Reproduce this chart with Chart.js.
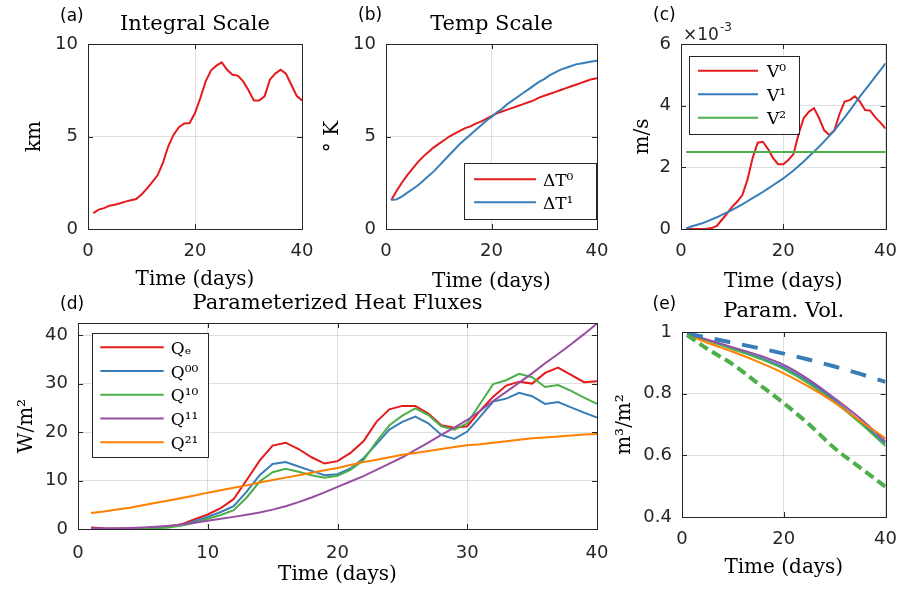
<!DOCTYPE html>
<html>
<head>
<meta charset="utf-8">
<title>Parameterized heat fluxes</title>
<script src="https://cdn.jsdelivr.net/npm/chart.js@4.4.1/dist/chart.umd.min.js"></script>
<style>
  body { margin: 0; background: #fff; }
  #figure { position: relative; width: 909px; height: 595px; background: #fff; overflow: hidden; }
  #figure canvas { position: absolute; left: 0; top: 0; }
</style>
</head>
<body>
<div id="figure">
  <canvas id="panelA" width="909" height="595"></canvas>
  <canvas id="panelB" width="909" height="595"></canvas>
  <canvas id="panelC" width="909" height="595"></canvas>
  <canvas id="panelD" width="909" height="595"></canvas>
  <canvas id="panelE" width="909" height="595"></canvas>
</div>
<script>
// x values (days) shared by the daily series
const days = [1,2,3,4,5,6,7,8,9,10,11,12,13,14,15,16,17,18,19,20,21,22,23,24,25,26,27,28,29,30,31,32,33,34,35,36,37,38,39,40];

// (a) integral scale, km
const integralScale = [0.86,1.05,1.13,1.26,1.31,1.39,1.48,1.55,1.62,1.87,2.18,2.54,2.9,3.57,4.47,5.1,5.5,5.7,5.73,6.27,7.08,7.98,8.58,8.83,9.01,8.61,8.34,8.29,7.98,7.5,6.95,6.95,7.17,8.07,8.4,8.61,8.4,7.8,7.2,6.95];

// (b) temperature scale, K
const deltaT0 = [1.57,2.05,2.5,2.9,3.25,3.6,3.9,4.15,4.4,4.6,4.8,5.0,5.15,5.3,5.45,5.55,5.7,5.8,5.95,6.1,6.25,6.35,6.45,6.55,6.65,6.75,6.85,6.95,7.1,7.2,7.3,7.4,7.5,7.6,7.7,7.8,7.9,8.0,8.1,8.15];
const deltaT1 = [1.57,1.6,1.75,1.95,2.15,2.35,2.6,2.85,3.1,3.4,3.7,4.0,4.3,4.6,4.85,5.1,5.35,5.6,5.85,6.05,6.3,6.5,6.75,6.95,7.15,7.35,7.55,7.75,7.95,8.1,8.3,8.45,8.6,8.7,8.8,8.9,8.95,9.0,9.05,9.1];

// (c) velocity scale, units of 1e-3 m/s
const vel0 = [0,0,0,0,0.01,0.03,0.1,0.3,0.5,0.72,0.89,1.1,1.6,2.3,2.8,2.83,2.6,2.3,2.1,2.1,2.24,2.43,3.08,3.6,3.8,3.92,3.6,3.2,3.05,3.2,3.73,4.13,4.18,4.3,4.13,3.86,3.84,3.62,3.45,3.26];
const vel1 = [0.02,0.08,0.13,0.18,0.24,0.31,0.38,0.46,0.54,0.62,0.71,0.8,0.9,1.0,1.1,1.2,1.31,1.42,1.53,1.64,1.77,1.9,2.04,2.19,2.35,2.51,2.67,2.84,3.02,3.2,3.41,3.62,3.84,4.07,4.3,4.51,4.72,4.94,5.15,5.37];
const vel2Days = [1, 40];
const vel2 = [2.5, 2.5];

// (d) heat fluxes, W/m2
const qE  = [0.3,0.15,0.1,0.1,0.15,0.3,0.5,1.0,2.0,3.0,4.3,6.2,10.1,14.1,17.2,17.8,16.5,14.8,13.5,14.0,15.7,18.1,22.1,24.7,25.4,25.4,23.8,21.4,20.9,21.2,24.4,27.3,29.6,30.4,30.0,32.2,33.3,31.8,30.3,30.5];
const q00 = [0.1,0.05,0.05,0.05,0.1,0.2,0.4,0.9,1.6,2.5,3.5,4.7,7.7,11.1,13.4,13.8,12.9,12.0,11.1,11.3,12.5,14.6,17.5,20.5,22.1,23.2,21.8,19.4,18.6,20.1,23.2,26.3,26.9,28.1,27.4,25.8,26.2,25.1,24.0,23.0];
const q10 = [0,0,0,0.05,0.1,0.15,0.3,0.7,1.3,2.1,2.9,3.9,6.5,9.8,11.7,12.4,11.8,11.1,10.6,11.0,12.2,14.2,18.0,21.4,23.4,24.9,23.5,21.2,20.5,21.8,25.9,29.9,30.7,32.0,31.3,29.3,29.7,28.5,27.1,25.8];
const q11 = [0.05,0.08,0.12,0.2,0.3,0.45,0.65,0.95,1.3,1.7,2.1,2.5,2.95,3.4,4.0,4.7,5.55,6.5,7.55,8.7,9.8,10.9,12.2,13.5,14.8,16.3,17.8,19.4,20.9,22.5,24.4,26.4,28.3,30.2,32.1,34.2,36.1,38.1,40.2,42.4];
const q21 = [3.3,3.6,4.0,4.4,4.9,5.4,5.9,6.4,6.9,7.5,8.0,8.5,9.0,9.6,10.1,10.6,11.1,11.6,12.1,12.6,13.2,13.8,14.3,14.8,15.3,15.7,16.1,16.5,16.9,17.3,17.5,17.8,18.1,18.4,18.7,18.9,19.1,19.3,19.5,19.6];

// (e) parameterized volume, m3/m2 (read every 5 days)
const volDays = [1,5,10,15,20,25,30,35,40];
const volQ00 = [0.995,0.973,0.946,0.918,0.885,0.838,0.778,0.71,0.638];
const volQ10 = [0.993,0.972,0.944,0.915,0.88,0.832,0.772,0.705,0.63];
const volQ11 = [0.995,0.975,0.95,0.925,0.893,0.845,0.785,0.72,0.645];
const volQ21 = [0.99,0.965,0.936,0.903,0.866,0.822,0.771,0.712,0.655];
const volBlueDash = [0.995,0.982,0.965,0.948,0.93,0.91,0.888,0.864,0.838];
const volGreenDash = [0.99,0.945,0.895,0.832,0.769,0.7,0.623,0.56,0.498];

// tick values
const ticksX3 = [0, 20, 40];
const ticksX5 = [0, 10, 20, 30, 40];
const ticksY10 = [0, 5, 10];
const ticksYVel = [0, 2, 4, 6];
const ticksYFlux = [0, 10, 20, 30, 40];
const ticksYVol = [0.4, 0.6, 0.8, 1];

const RED = '#e41a1c', BLUE = '#377eb8', GREEN = '#4daf4a', PURPLE = '#984ea3', ORANGE = '#ff7f00';
const AXIS_COLOR = '#262626';
const GRID_COLOR = 'rgba(38,38,38,0.15)';
const AXIS_W = 60, AXIS_H = 50, TICK_LEN = 5;
const SERIF = '"DejaVu Serif", serif';
const SANS = '"DejaVu Sans", sans-serif';

Chart.defaults.font.family = SANS;
Chart.defaults.font.size = 18;
Chart.defaults.color = AXIS_COLOR;

function series(xs, ys) {
    return xs.map((x, i) => ({ x: x, y: ys[i] }));
}

function line(label, xs, ys, color, extra) {
    return Object.assign({
        label: label,
        data: series(xs, ys),
        borderColor: color,
        backgroundColor: color,
        borderWidth: 2,
        pointRadius: 0,
        tension: 0,
        fill: false
    }, extra || {});
}

// box, inward ticks, titles and boxed legend, the way MATLAB draws them
const matlabAxes = {
    id: 'matlabAxes',
    afterDatasetsDraw(chart, args, o) {
        const ctx = chart.ctx;
        const a = chart.chartArea;
        const sx = chart.scales.x, sy = chart.scales.y;
        ctx.save();

        ctx.strokeStyle = AXIS_COLOR;
        ctx.lineWidth = 1;
        ctx.beginPath();
        sx.ticks.forEach(t => {
            const p = Math.round(sx.getPixelForValue(t.value)) + 0.5;
            ctx.moveTo(p, a.bottom); ctx.lineTo(p, a.bottom - TICK_LEN);
            ctx.moveTo(p, a.top); ctx.lineTo(p, a.top + TICK_LEN);
        });
        sy.ticks.forEach(t => {
            const p = Math.round(sy.getPixelForValue(t.value)) + 0.5;
            ctx.moveTo(a.left, p); ctx.lineTo(a.left + TICK_LEN, p);
            ctx.moveTo(a.right, p); ctx.lineTo(a.right - TICK_LEN, p);
        });
        ctx.stroke();
        ctx.strokeRect(Math.round(a.left) + 0.5, Math.round(a.top) + 0.5,
            Math.round(a.right - a.left), Math.round(a.bottom - a.top));

        ctx.fillStyle = '#000';
        ctx.textBaseline = 'alphabetic';
        const cx = (a.left + a.right) / 2;
        if (o.title) {
            ctx.font = '21px ' + SERIF;
            ctx.textAlign = 'center';
            ctx.fillText(o.title, cx, o.titleY);
        }
        ctx.font = '20px ' + SERIF;
        ctx.textAlign = 'center';
        ctx.fillText(o.xTitle, cx, o.xTitleY);

        ctx.save();
        ctx.translate(o.yTitleX, (a.top + a.bottom) / 2);
        ctx.rotate(-Math.PI / 2);
        ctx.fillText(o.yTitle, 0, 0);
        ctx.restore();

        ctx.font = '17px ' + SANS;
        ctx.textAlign = 'left';
        ctx.fillText(o.letter, o.letterX, o.letterY);

        if (o.exponent) {
            ctx.fillStyle = AXIS_COLOR;
            ctx.fillText(o.exponent.base, o.exponent.x, o.exponent.y);
            const w = ctx.measureText(o.exponent.base).width;
            ctx.font = '12px ' + SANS;
            ctx.fillText(o.exponent.power, o.exponent.x + w + 1, o.exponent.y - 9);
        }

        const lg = o.legend;
        if (lg) {
            const bx = a.left + lg.left, by = a.top + lg.top;
            ctx.fillStyle = '#fff';
            ctx.fillRect(bx, by, lg.width, lg.height);
            ctx.strokeStyle = AXIS_COLOR;
            ctx.lineWidth = 1;
            ctx.strokeRect(Math.round(bx) + 0.5, Math.round(by) + 0.5, Math.round(lg.width), Math.round(lg.height));
            ctx.font = '17px ' + SERIF;
            ctx.textAlign = 'left';
            chart.data.datasets.forEach((ds, i) => {
                const y = by + lg.first + i * lg.step;
                ctx.strokeStyle = ds.borderColor;
                ctx.lineWidth = 2;
                ctx.beginPath();
                ctx.moveTo(bx + lg.lineFrom, y);
                ctx.lineTo(bx + lg.lineTo, y);
                ctx.stroke();
                ctx.fillStyle = '#000';
                ctx.fillText(ds.label, bx + lg.textAt, y + 6.5);
            });
        }
        ctx.restore();
    }
};

function axis(ticks, min, max, pad, fit) {
    return {
        type: 'linear',
        min: min,
        max: max,
        afterBuildTicks: s => { s.ticks = ticks.map(v => ({ value: v })); },
        afterFit: fit,
        grid: { color: GRID_COLOR, lineWidth: 1, drawTicks: false },
        border: { display: false },
        ticks: { padding: pad, maxRotation: 0, autoSkip: false, color: AXIS_COLOR, callback: v => String(v) }
    };
}

// area = [left, top, right, bottom] of the plot box in page pixels
function makePanel(canvasId, area, datasets, xTicks, yTicks, yMin, yMax, opts) {
    const [L, T, R, B] = area;
    datasets.forEach((ds, i) => { ds.order = datasets.length - i; });
    return new Chart(document.getElementById(canvasId), {
        type: 'line',
        data: { datasets: datasets },
        options: {
            responsive: false,
            animation: false,
            events: [],
            layout: { padding: { left: L - AXIS_W, top: T, right: 909 - R, bottom: 595 - B - AXIS_H } },
            plugins: { legend: { display: false }, tooltip: { enabled: false }, matlabAxes: opts },
            scales: {
                x: axis(xTicks, 0, 40, opts.xPad || 12, s => { s.height = AXIS_H; }),
                y: axis(yTicks, yMin, yMax, 10, s => { s.width = AXIS_W; })
            }
        },
        plugins: [matlabAxes]
    });
}

makePanel('panelA', [88, 44, 302, 229],
    [line('Integral scale', days, integralScale, RED)],
    ticksX3, ticksY10, 0, 10, {
        title: 'Integral Scale', titleY: 29.5,
        xTitle: 'Time (days)', xTitleY: 285,
        yTitle: 'km', yTitleX: 40,
        letter: '(a)', letterX: 60, letterY: 20.5
    });

makePanel('panelB', [386, 44, 597, 229],
    [line('ΔT⁰', days, deltaT0, RED), line('ΔT¹', days, deltaT1, BLUE)],
    ticksX3, ticksY10, 0, 10, {
        title: 'Temp Scale', titleY: 30,
        xTitle: 'Time (days)', xTitleY: 286.5,
        yTitle: '° K', yTitleX: 338,
        letter: '(b)', letterX: 358, letterY: 20,
        legend: { left: 78, top: 119, width: 132, height: 56, first: 16.3, step: 23, lineFrom: 10, lineTo: 72, textAt: 79 }
    });

makePanel('panelC', [681, 44, 895, 229],
    [line('V⁰', days, vel0, RED), line('V¹', days, vel1, BLUE), line('V²', vel2Days, vel2, GREEN)],
    ticksX3, ticksYVel, 0, 6, {
        xTitle: 'Time (days)', xTitleY: 286.5,
        yTitle: 'm/s', yTitleX: 648,
        letter: '(c)', letterX: 653, letterY: 19.5,
        exponent: { base: '×10', power: '-3', x: 683, y: 39.5 },
        legend: { left: 8, top: 11.7, width: 110, height: 77.6, first: 15, step: 23.5, lineFrom: 9, lineTo: 69, textAt: 78 }
    });

makePanel('panelD', [78, 323, 597, 529],
    [line('Qₑ', days, qE, RED), line('Q⁰⁰', days, q00, BLUE), line('Q¹⁰', days, q10, GREEN),
     line('Q¹¹', days, q11, PURPLE), line('Q²¹', days, q21, ORANGE)],
    ticksX5, ticksYFlux, 0, 42.5, {
        title: 'Parameterized Heat Fluxes', titleY: 308.5,
        xTitle: 'Time (days)', xTitleY: 579.5, xPad: 14,
        yTitle: 'W/m²', yTitleX: 31.5,
        letter: '(d)', letterX: 60, letterY: 309,
        legend: { left: 14, top: 10, width: 116, height: 124, first: 14.3, step: 23.75, lineFrom: 8.3, lineTo: 71.7, textAt: 78.7 }
    });

const smooth = { cubicInterpolationMode: 'monotone' };
makePanel('panelE', [682, 332, 895, 517],
    [line('Q⁰⁰ vol', volDays, volQ00, BLUE, smooth), line('Q¹⁰ vol', volDays, volQ10, GREEN, smooth),
     line('Q¹¹ vol', volDays, volQ11, PURPLE, smooth), line('Q²¹ vol', volDays, volQ21, ORANGE, smooth),
     line('blue dashed', volDays, volBlueDash, BLUE, Object.assign({ borderWidth: 4, borderDash: [16, 12] }, smooth)),
     line('green dashed', volDays, volGreenDash, GREEN, Object.assign({ borderWidth: 4, borderDash: [10, 5] }, smooth))],
    ticksX3, ticksYVol, 0.4, 1, {
        title: 'Param. Vol.', titleY: 316.5,
        xTitle: 'Time (days)', xTitleY: 573,
        yTitle: 'm³/m²', yTitleX: 630,
        letter: '(e)', letterX: 652.5, letterY: 308.5
    });
</script>
</body>
</html>
